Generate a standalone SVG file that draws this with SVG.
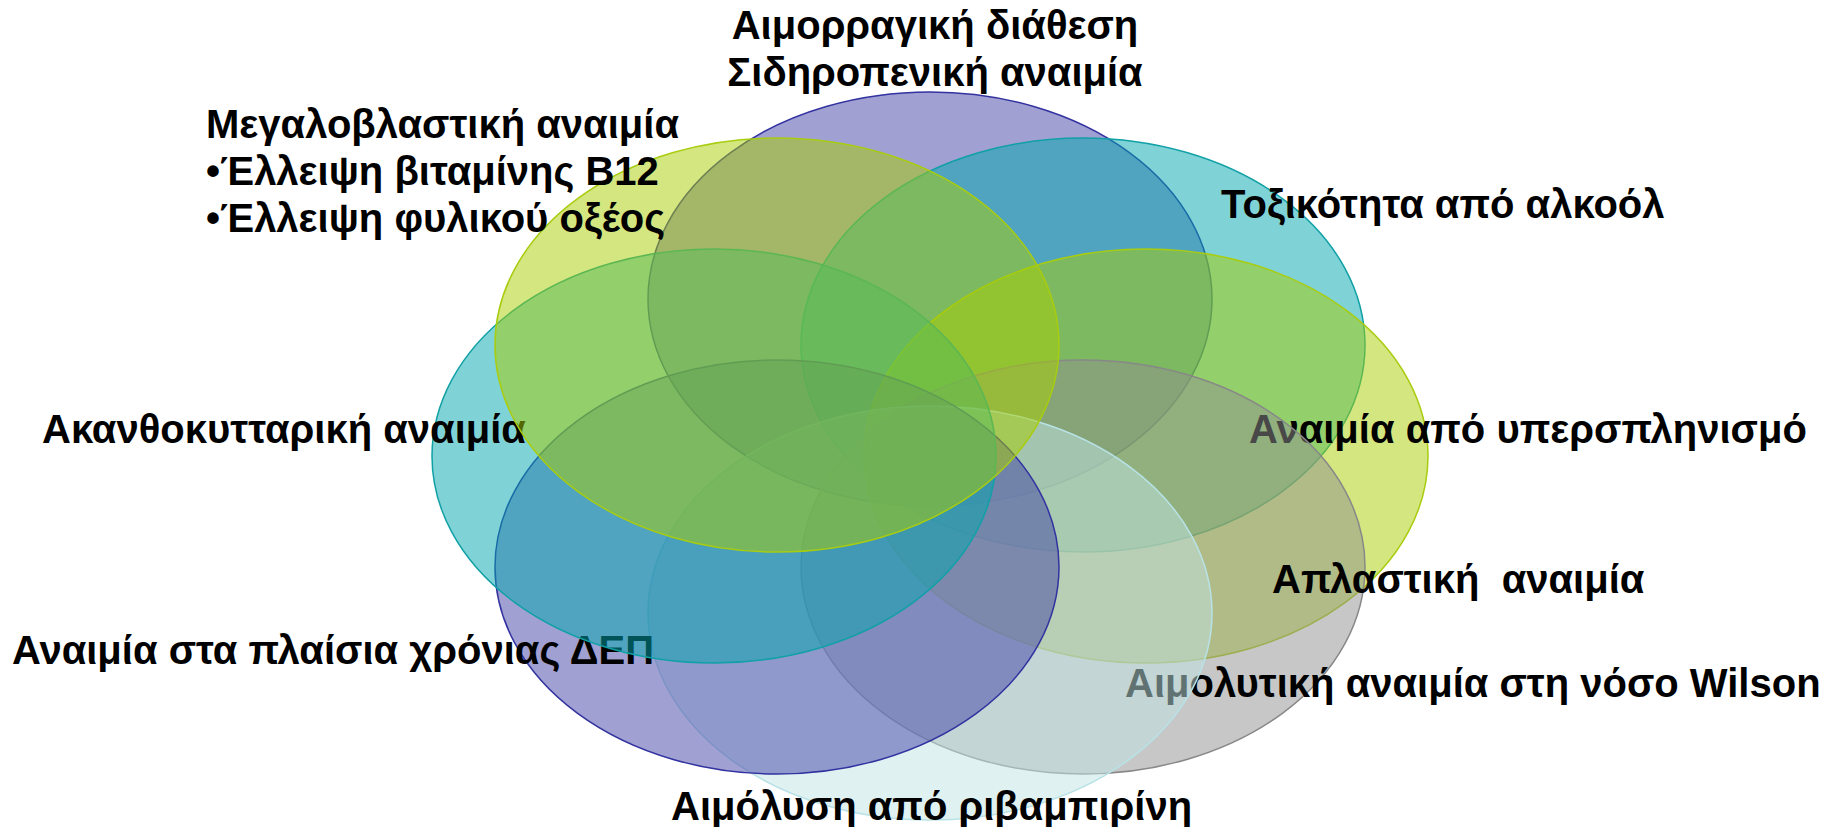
<svg xmlns="http://www.w3.org/2000/svg" width="1837" height="827" viewBox="0 0 1837 827">
<style>
.lbl{font-family:"Liberation Sans",Arial,sans-serif;font-weight:bold;font-size:40px;fill:#000}
.e{stroke-width:1.5}
.pur{fill:#4141a5;fill-opacity:.5;stroke:#3232a0}
.teal{fill:#00a7ad;fill-opacity:.5;stroke:#10a0a6}
.yg{fill:#a7cd00;fill-opacity:.5;stroke:#a8cc10}
.gray{fill:#8f8f8f;fill-opacity:.5;stroke:#888888}
.cyan{fill:#bfe3e3;fill-opacity:.5;stroke:#b8e2e6}
</style>
<rect width="1837" height="827" fill="#ffffff"/>
<g id="node-A">
<ellipse class="e pur" cx="930" cy="299" rx="282" ry="207"/>
<text class="lbl" x="935" y="39" text-anchor="middle">Αιμορραγική διάθεση</text>
<text class="lbl" x="935" y="86" text-anchor="middle">Σιδηροπενική αναιμία</text>
</g>
<g id="node-B">
<ellipse class="e teal" cx="1083" cy="345" rx="282" ry="207"/>
<text class="lbl" x="1221" y="218">Τοξικότητα από αλκοόλ</text>
</g>
<g id="node-E">
<ellipse class="e yg" cx="1146" cy="456" rx="282" ry="207"/>
<text class="lbl" x="1249" y="443">Αναιμία από υπερσπληνισμό</text>
</g>
<g id="node-G">
<ellipse class="e gray" cx="1083" cy="567" rx="282" ry="207"/>
<text class="lbl" x="1125" y="697">Αιμολυτική αναιμία στη νόσο Wilson</text>
</g>
<g id="node-H">
<ellipse class="e cyan" cx="930" cy="613" rx="282" ry="207"/>
<text class="lbl" x="671" y="820">Αιμόλυση από ριβαμπιρίνη</text>
</g>
<g id="node-F">
<ellipse class="e pur" cx="777" cy="567" rx="282" ry="207"/>
<text class="lbl" x="12" y="664">Αναιμία στα πλαίσια χρόνιας ΔΕΠ</text>
</g>
<g id="node-D">
<ellipse class="e teal" cx="714" cy="456" rx="282" ry="207"/>
<text class="lbl" x="42" y="443">Ακανθοκυτταρική αναιμία</text>
</g>
<g id="node-C">
<ellipse class="e yg" cx="777" cy="345" rx="282" ry="207"/>
<text class="lbl" x="206" y="138">Μεγαλοβλαστική αναιμία</text>
<text class="lbl" x="206" y="185">•Έλλειψη βιταμίνης Β12</text>
<text class="lbl" x="206" y="232">•Έλλειψη φυλικού οξέος</text>
</g>
<g id="node-aplastic">
<text class="lbl" x="1272" y="593" xml:space="preserve">Απλαστική  αναιμία</text>
</g>
</svg>
